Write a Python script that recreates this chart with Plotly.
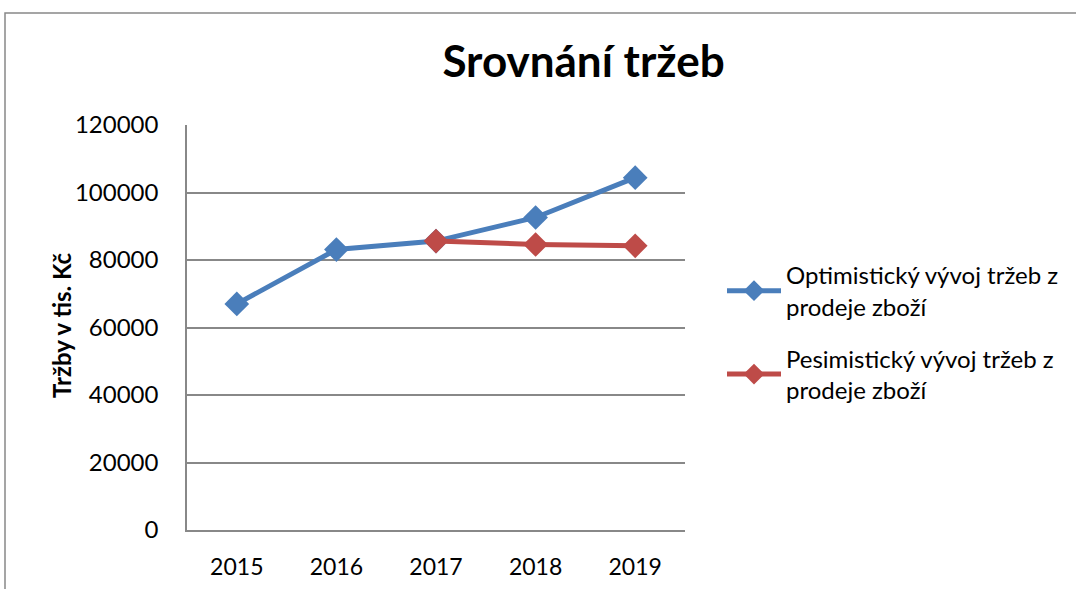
import plotly.graph_objects as go

years = ["2015", "2016", "2017", "2018", "2019"]
optimistic = [67000, 83100, 85600, 92600, 104400]
pessimistic = [None, None, 85600, 84600, 84200]
y_ticks = [0, 20000, 40000, 60000, 80000, 100000, 120000]

names = ["Optimistický vývoj tržeb z<br>prodeje zboží",
         "Pesimistický vývoj tržeb z<br>prodeje zboží"]
colors = ["#4A7EBB", "#BE4B48"]

FONT = "Lato, 'Open Sans', sans-serif"

L, R, T, B = 187, 391, 125, 59
PW = 1076 - L - R
PH = 589 - T - B


def px_x(x):
    return (x - L) / PW


def px_y(y):
    return (589 - B - y) / PH


fig = go.Figure()
for i, (name, vals, col) in enumerate(zip(names, [optimistic, pessimistic], colors)):
    fig.add_trace(go.Scatter(
        x=years, y=vals, name=name, mode="lines+markers", legendgroup=f"g{i}",
        line=dict(color=col, width=5),
        marker=dict(symbol="diamond", size=19, color=col),
        connectgaps=False,
    ))

fig.update_layout(
    width=1076, height=589,
    margin=dict(l=L, r=R, t=T, b=B, autoexpand=False),
    paper_bgcolor="white", plot_bgcolor="white",
    font=dict(family=FONT, size=23, color="black"),
    title=dict(text="<b>Srovnání tržeb</b>", x=(440 + 727) / 2 / 1076, xanchor="center",
               y=1 - 62 / 589, yanchor="middle",
               font=dict(family=FONT, size=44, color="black")),
    showlegend=True,
    legend=dict(x=px_x(722), xanchor="left", y=px_y(253), yanchor="top",
                font=dict(family=FONT, size=24, color="black"),
                itemwidth=54, tracegroupgap=18, bgcolor="rgba(0,0,0,0)"),
)
fig.update_xaxes(type="category", range=[-0.5, 4.5], showgrid=False, automargin=False,
                 showline=True, linecolor="#888888", linewidth=1.5,
                 ticks="", ticklabelstandoff=16,
                 tickfont=dict(family=FONT, size=23, color="black"))
fig.update_yaxes(range=[0, 120000], tickvals=y_ticks, ticktext=[str(v) for v in y_ticks],
                 automargin=False,
                 showgrid=True, gridcolor="#888888", gridwidth=1.5,
                 showline=True, linecolor="#888888", linewidth=1.5,
                 zeroline=False, ticks="", ticklabelstandoff=22,
                 tickfont=dict(family=FONT, size=24, color="black"))

fig.add_annotation(text="<b>Tržby v tis. Kč</b>", textangle=-90,
                   xref="paper", yref="paper", x=px_x(61), y=px_y(325),
                   xanchor="center", yanchor="middle", showarrow=False,
                   font=dict(family=FONT, size=24, color="black"))

# outer chart frame (partially cropped in the reference)
fig.add_shape(type="rect", xref="paper", yref="paper",
              x0=px_x(5), x1=px_x(1100), y0=px_y(620), y1=px_y(13),
              line=dict(color="#888888", width=1.5), fillcolor="rgba(0,0,0,0)", layer="below")

fig.write_html("out.html", config={"displayModeBar": False},
               post_script="document.body.style.margin='0';document.body.style.overflow='hidden';")
